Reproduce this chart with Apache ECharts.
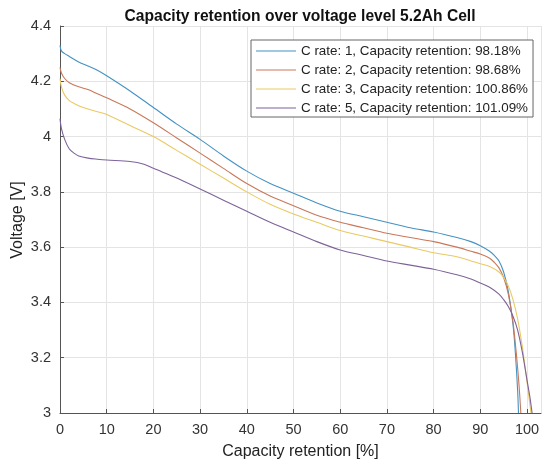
<!DOCTYPE html>
<html>
<head>
<meta charset="utf-8">
<script src="https://cdn.jsdelivr.net/npm/echarts@6/dist/echarts.min.js"></script>
<style>html,body{margin:0;padding:0;background:#fff}#c{width:547px;height:463px}</style>
</head>
<body>
<div id="c"></div>
<script>
var titleText = 'Capacity retention over voltage level 5.2Ah Cell';
var xName = 'Capacity retention [%]';
var yName = 'Voltage [V]';
var seriesNames = ['C rate: 1, Capacity retention: 98.18%', 'C rate: 2, Capacity retention: 98.68%', 'C rate: 3, Capacity retention: 100.86%', 'C rate: 5, Capacity retention: 101.09%'];

var c1Cap = [0, 0.3, 1, 2, 4, 6, 8, 10, 15, 20, 25, 30, 35, 40, 45, 50, 55, 60, 65, 70, 75, 80, 85, 88, 90, 92, 93, 94, 95, 96, 97, 97.5, 98, 98.18];
var c1V   = [4.33, 4.31, 4.30, 4.29, 4.27, 4.255, 4.24, 4.22, 4.165, 4.105, 4.045, 3.99, 3.93, 3.875, 3.83, 3.795, 3.76, 3.73, 3.71, 3.69, 3.67, 3.655, 3.635, 3.62, 3.605, 3.585, 3.57, 3.55, 3.51, 3.44, 3.32, 3.22, 3.08, 3.0];

var c2Cap = [0, 0.3, 1, 2, 4, 6, 8, 10, 15, 20, 25, 30, 35, 40, 45, 50, 55, 60, 65, 70, 75, 80, 85, 88, 90, 92, 93, 94, 95, 96, 97, 97.8, 98.3, 98.68];
var c2V   = [4.25, 4.23, 4.21, 4.195, 4.18, 4.17, 4.155, 4.14, 4.10, 4.05, 3.995, 3.94, 3.885, 3.83, 3.785, 3.75, 3.715, 3.69, 3.67, 3.65, 3.635, 3.62, 3.60, 3.585, 3.575, 3.56, 3.545, 3.525, 3.49, 3.43, 3.33, 3.2, 3.1, 3.0];

var c3Cap = [0, 0.3, 1, 2, 3, 5, 8, 10, 15, 20, 25, 30, 35, 40, 45, 50, 55, 60, 65, 70, 75, 80, 85, 88, 90, 92, 94, 95, 96, 97, 98, 99, 99.8, 100.4, 100.86];
var c3V   = [4.21, 4.18, 4.15, 4.13, 4.12, 4.105, 4.09, 4.08, 4.04, 4.0, 3.95, 3.90, 3.85, 3.80, 3.755, 3.72, 3.69, 3.66, 3.64, 3.62, 3.60, 3.58, 3.565, 3.55, 3.54, 3.53, 3.51, 3.49, 3.46, 3.41, 3.34, 3.24, 3.14, 3.06, 3.0];

var c5Cap = [0, 0.3, 1, 2, 3, 4, 6, 8, 10, 15, 18, 20, 25, 30, 35, 40, 45, 50, 55, 60, 65, 70, 75, 80, 85, 88, 90, 92, 94, 95, 96, 97, 98, 99, 100, 100.6, 101.09];
var c5V   = [4.065, 4.03, 3.99, 3.955, 3.94, 3.93, 3.922, 3.918, 3.915, 3.91, 3.90, 3.885, 3.85, 3.81, 3.77, 3.73, 3.69, 3.655, 3.62, 3.59, 3.57, 3.55, 3.535, 3.52, 3.50, 3.485, 3.47, 3.455, 3.43, 3.41, 3.385, 3.35, 3.30, 3.22, 3.12, 3.06, 3.0];

var colors = ['#4592c3', '#c9785a', '#e9ca63', '#7d6399'];
var caps = [c1Cap, c2Cap, c3Cap, c5Cap];
var volts = [c1V, c2V, c3V, c5V];

function pairs(xs, ys) { return xs.map(function (x, i) { return [x, ys[i]]; }); }

var font = 'Liberation Sans, Arial, Helvetica, sans-serif';
var chart = echarts.init(document.getElementById('c'), null, {renderer: 'canvas'});
chart.setOption({
  animation: false,
  backgroundColor: '#fff',
  color: colors,
  title: {
    text: titleText, left: 295, top: 4, textAlign: 'center',
    textStyle: {fontFamily: font, fontSize: 15.6, fontWeight: 'bold', color: '#111'}
  },
  graphic: [{
    type: 'text', x: 18, y: 220, rotation: Math.PI / 2,
    style: {text: yName, font: '16px Liberation Sans, Arial, sans-serif', fill: '#222',
            align: 'center', verticalAlign: 'middle', textAlign: 'center', textVerticalAlign: 'middle'}
  }],
  grid: {left: 60, right: 6, top: 26, bottom: 50, containLabel: false, outerBoundsMode: 'none'},
  legend: {
    orient: 'vertical', left: 251, top: 40,
    icon: 'rect',
    itemWidth: 40, itemHeight: 1.2, itemGap: 3,
    padding: [3, 5, 1, 5],
    borderColor: '#666', borderWidth: 1, backgroundColor: '#fff',
    textStyle: {fontFamily: font, fontSize: 13.4, color: '#222', lineHeight: 16},
    data: seriesNames
  },
  xAxis: {
    type: 'value', min: 0, max: 103, interval: 10,
    name: xName, nameLocation: 'middle', nameGap: 31,
    nameTextStyle: {fontFamily: font, fontSize: 16, color: '#222'},
    axisLine: {show: true, onZero: false, lineStyle: {color: '#555', width: 1}},
    axisTick: {show: true, inside: true, length: 4, lineStyle: {color: '#555'}},
    axisLabel: {fontFamily: font, fontSize: 14.5, color: '#333', margin: 9, showMaxLabel: false},
    splitLine: {show: true, lineStyle: {color: '#e4e4e4', width: 1}}
  },
  yAxis: {
    type: 'value', min: 3, max: 4.4, interval: 0.2,
    axisLine: {show: true, onZero: false, lineStyle: {color: '#555', width: 1}},
    axisTick: {show: true, inside: true, length: 4, lineStyle: {color: '#555'}},
    axisLabel: {fontFamily: font, fontSize: 14.5, color: '#333', margin: 9},
    splitLine: {show: true, lineStyle: {color: '#e4e4e4', width: 1}}
  },
  series: seriesNames.map(function (n, i) {
    return {
      name: n, type: 'line', symbol: 'none', smooth: 0.3,
      data: pairs(caps[i], volts[i]),
      lineStyle: {width: 1.1, color: colors[i]},
      itemStyle: {color: colors[i]}
    };
  })
});
</script>
</body>
</html>
